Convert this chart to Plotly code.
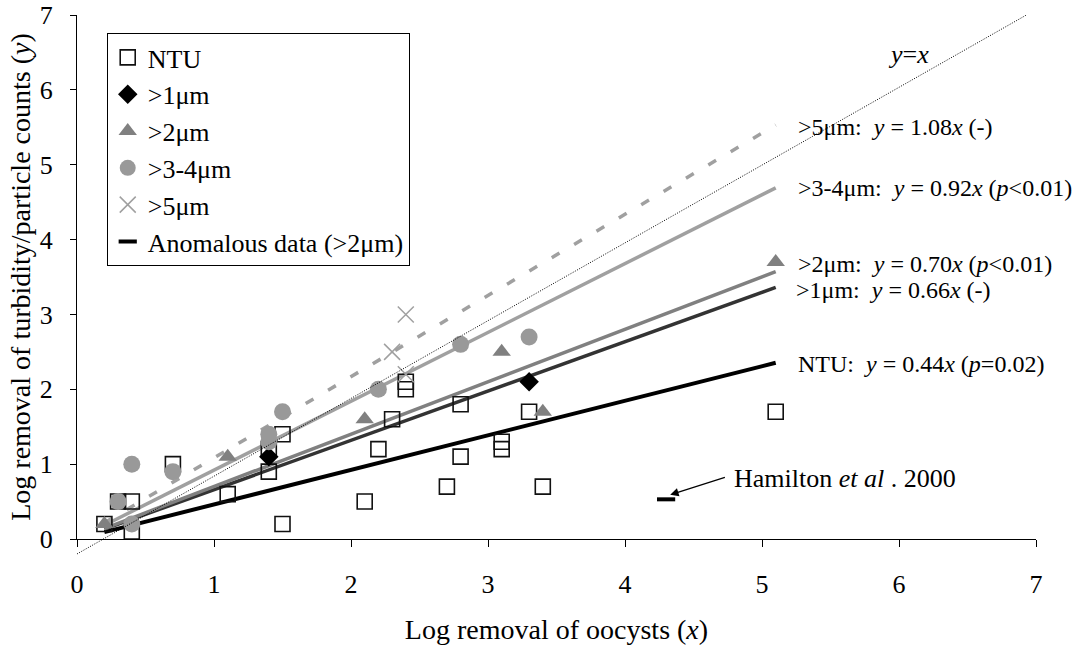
import numpy as np
import plotly.graph_objects as go

# ---------------- data ----------------
ntu_x = [0.2, 0.3, 0.4, 0.4, 0.7, 1.1, 1.4, 1.4, 1.5, 1.5, 2.1, 2.2, 2.3, 2.4, 2.4,
         2.7, 2.8, 2.8, 3.1, 3.1, 3.3, 3.4, 5.1]
ntu_y = [0.2, 0.5, 0.1, 0.5, 1.0, 0.6, 0.9, 1.2, 1.4, 0.2, 0.5, 1.2, 1.6, 2.0, 2.1,
         0.7, 1.1, 1.8, 1.2, 1.3, 1.7, 0.7, 1.7]

gt1_x = [1.4, 3.3]
gt1_y = [1.1, 2.1]

gt2_x = [0.2, 1.1, 2.1, 3.1, 3.4, 5.1]
gt2_y = [0.2, 1.1, 1.6, 2.5, 1.7, 3.7]

gt34_x = [0.3, 0.4, 0.4, 0.7, 1.4, 1.4, 1.5, 2.2, 2.8, 3.3]
gt34_y = [0.5, 1.0, 0.2, 0.9, 1.3, 1.4, 1.7, 2.0, 2.6, 2.7]

gt5_x = [2.3, 2.4, 2.4]
gt5_y = [2.5, 3.0, 2.2]

anom_x = [4.3]
anom_y = [0.53]

fit_x_range = [0.2, 5.1]          # extent of fitted lines (oocyst log removal)
ref_x = [0.0, 6.93]               # "y=x" reference line as drawn
ref_y = [-0.2, 7.0]

x_ticks = [0, 1, 2, 3, 4, 5, 6, 7]
y_ticks = [0, 1, 2, 3, 4, 5, 6, 7]

series_names = ["NTU", ">1μm", ">2μm", ">3-4μm", ">5μm", "Anomalous data (>2μm)"]
slope_labels = ["0.44", "0.66", "0.70", "0.92", "1.08"]
p_labels = ["(<i>p</i>=0.02)", "(-)", "(<i>p</i>&lt;0.01)", "(<i>p</i>&lt;0.01)", "(-)"]

# ---------------------------------------------------------------
FONT = "Liberation Serif, Times New Roman, serif"


def origin_fit(xs, ys):
    xs = np.asarray(xs, float)
    ys = np.asarray(ys, float)
    return float((xs * ys).sum() / (xs * xs).sum())


fig = go.Figure()

# fitted regression lines (through origin)
fx = np.array(fit_x_range)
line_specs = [
    (ntu_x, ntu_y, "#000000", 4, "solid"),
    (gt1_x, gt1_y, "#333333", 3.5, "solid"),
    (gt2_x, gt2_y, "#808080", 3.5, "solid"),
    (gt34_x, gt34_y, "#a0a0a0", 3.5, "solid"),
    (gt5_x, gt5_y, "#a0a0a0", 3.5, "9px,17px"),
]
for xs, ys, col, w, dash in line_specs:
    k = origin_fit(xs, ys)
    fig.add_trace(go.Scatter(x=fx, y=k * fx, mode="lines", showlegend=False,
                             hoverinfo="skip",
                             line=dict(color=col, width=w, dash=dash)))

# markers
fig.add_trace(go.Scatter(x=ntu_x, y=ntu_y, mode="markers", name=series_names[0],
                         marker=dict(symbol="square-open", size=15, color="#111111",
                                     line=dict(width=1.6, color="#111111"))))
fig.add_trace(go.Scatter(x=gt1_x, y=gt1_y, mode="markers", name=series_names[1],
                         marker=dict(symbol="diamond", size=15, color="#000000")))
fig.add_trace(go.Scatter(x=gt2_x, y=gt2_y, mode="markers", name=series_names[2],
                         marker=dict(symbol="triangle-up", size=16, color="#808080")))
fig.add_trace(go.Scatter(x=gt34_x, y=gt34_y, mode="markers", name=series_names[3],
                         marker=dict(symbol="circle", size=17, color="#999999")))
fig.add_trace(go.Scatter(x=gt5_x, y=gt5_y, mode="markers", name=series_names[4],
                         marker=dict(symbol="x-thin-open", size=16, color="#a0a0a0",
                                     line=dict(width=1.5, color="#a0a0a0"))))
fig.add_trace(go.Scatter(x=anom_x, y=anom_y, mode="markers", name=series_names[5],
                         marker=dict(symbol="line-ew", size=13, color="#000000",
                                     line=dict(width=4, color="#000000"))))

# y = x reference line on an auxiliary axis pair that extends below y = 0
fig.add_trace(go.Scatter(x=ref_x, y=ref_y, mode="lines", showlegend=False,
                         hoverinfo="skip", xaxis="x2", yaxis="y2",
                         line=dict(color="#000000", width=1, dash="1px,1.5px")))

H_PLOT = 647 - 15 - 88          # plot area height in px
EXT = 20                        # px below y = 0 available to the reference line
px_per_unit = (H_PLOT - EXT) / 7.0

# annotations: regression equations
eq_pos = [(5.25, 2.34), (5.23, 3.33), (5.25, 3.68), (5.25, 4.69), (5.25, 5.50)]
for i, (ax_, ay_) in enumerate(eq_pos):
    txt = f"{series_names[i]}:\u00a0 <i>y</i> = {slope_labels[i]}<i>x</i> {p_labels[i]}"
    fig.add_annotation(x=ax_, y=ay_, xref="x", yref="y", text=txt, showarrow=False,
                       xanchor="left", yanchor="middle",
                       font=dict(family=FONT, size=24, color="black"))

fig.add_annotation(x=6.07, y=6.47, xref="x", yref="y", text="<i>y</i>=<i>x</i>",
                   showarrow=False, xanchor="center", yanchor="middle",
                   font=dict(family=FONT, size=26, color="black"))

# Hamilton et al. 2000 arrow + label
fig.add_annotation(x=4.33, y=0.59, ax=4.74, ay=0.83, xref="x", yref="y",
                   axref="x", ayref="y", text="", showarrow=True,
                   arrowhead=2, arrowsize=1.4, arrowwidth=1.2, arrowcolor="black")
fig.add_annotation(x=4.78, y=0.81, xref="x", yref="y",
                   text="Hamilton <i>et al</i> . 2000", showarrow=False,
                   xanchor="left", yanchor="middle",
                   font=dict(family=FONT, size=26, color="black"))

fig.update_layout(
    width=1077, height=647, autosize=False,
    margin=dict(l=77, r=41, t=15, b=88, pad=0),
    paper_bgcolor="white", plot_bgcolor="rgba(0,0,0,0)",
    font=dict(family=FONT, size=26, color="black"),
    legend=dict(x=0.031, y=(H_PLOT - 18) / H_PLOT, xanchor="left", yanchor="top",
                bordercolor="black", borderwidth=1, bgcolor="white",
                font=dict(family=FONT, size=26, color="black"),
                tracegroupgap=0, itemsizing="trace", itemwidth=30),
    xaxis=dict(domain=[0, 1], range=[0, 7], anchor="y", tickvals=x_ticks,
               ticks="outside", ticklen=7, tickwidth=1, tickcolor="black",
               showline=True, linecolor="black", linewidth=1,
               showgrid=False, zeroline=False, ticklabelstandoff=15,
               tickfont=dict(family=FONT, size=26),
               title=dict(text="Log removal of oocysts (<i>x</i>)", standoff=21,
                          font=dict(family=FONT, size=28)),
               automargin=False),
    yaxis=dict(domain=[EXT / H_PLOT, 1], range=[0, 7], anchor="x", tickvals=y_ticks,
               ticks="outside", ticklen=6, tickwidth=1, tickcolor="black",
               showline=True, linecolor="black", linewidth=1,
               showgrid=False, zeroline=False, ticklabelstandoff=12,
               tickfont=dict(family=FONT, size=26),
               title=dict(text="Log removal of turbidity/particle counts (<i>y</i>)",
                          standoff=0, font=dict(family=FONT, size=28)),
               automargin=False),
    xaxis2=dict(domain=[0, 1], range=[0, 7], anchor="y2", visible=False,
                showgrid=False, zeroline=False),
    yaxis2=dict(domain=[0, 1], range=[-EXT / px_per_unit, 7], anchor="x2",
                visible=False, showgrid=False, zeroline=False),
)

fig.write_html("out.html", config={"displayModeBar": False},
               post_script="document.body.style.margin='0';"
                           "document.body.style.overflow='hidden';")
